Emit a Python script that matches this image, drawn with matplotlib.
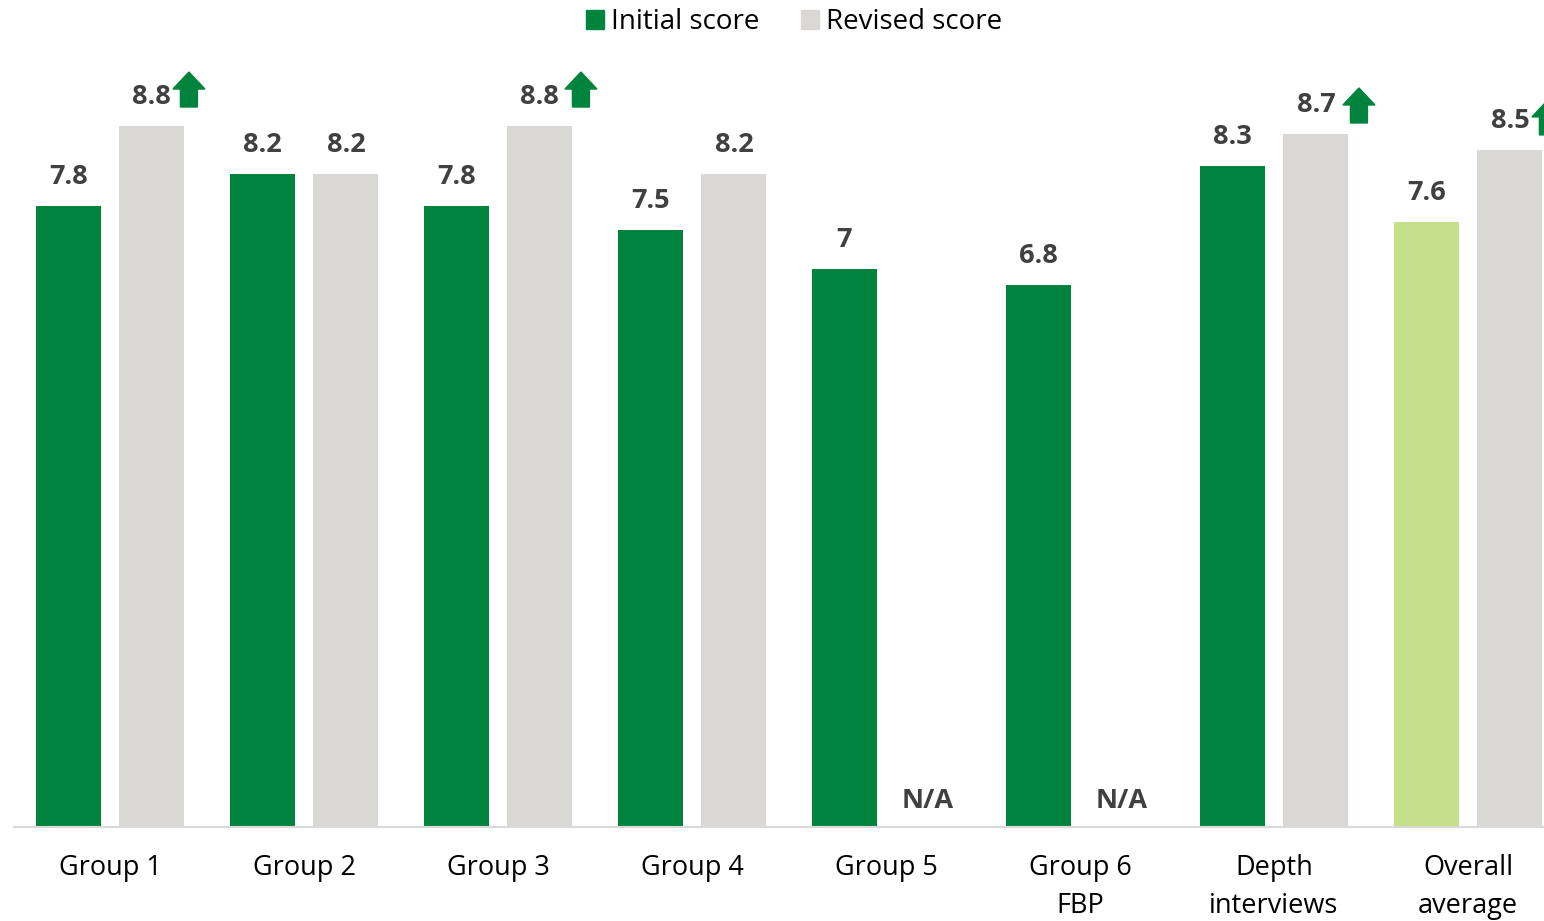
import numpy as np
import matplotlib
matplotlib.use('Agg')
import matplotlib.pyplot as plt
from matplotlib.patches import Patch, Polygon
from matplotlib.transforms import Affine2D, ScaledTranslation

# Data
groups = ['Group 1', 'Group 2', 'Group 3', 'Group 4', 'Group 5',
          'Group 6\nFBP', 'Depth\ninterviews', 'Overall\naverage']
initial = [7.8, 8.2, 7.8, 7.5, 7.0, 6.8, 8.3, 7.6]
revised = [8.8, 8.2, 8.8, 8.2, np.nan, np.nan, 8.7, 8.5]
# groups where the revised score went up (arrow marker), with pixel offsets
up_idx = [0, 2, 6, 7]
up_offsets = [(37, 19), (41, 19), (43, 11), (38, 15)]

GREEN = '#00843D'
LIGHT_GREEN = '#C5E08A'
GREY = '#D9D8D5'
LABEL = '#404040'

plt.rcParams['font.family'] = ['Open Sans', 'DejaVu Sans']

fig = plt.figure(figsize=(15.44, 9.21), dpi=100)
ax = fig.add_axes([14 / 1544, 94.5 / 921, 1530 / 1544, 826.5 / 921])

x = np.arange(len(groups))
w = 0.335
off = 0.216
init_colors = [GREEN] * (len(groups) - 1) + [LIGHT_GREEN]
ax.bar(x - off, initial, w, color=init_colors)
ax.bar(x + off, np.nan_to_num(revised), w, color=GREY)

def fmt(v):
    return f'{v:g}'

lab_kw = dict(textcoords='offset pixels', ha='center', va='baseline',
              fontsize=19.5, fontweight='bold', color=LABEL)
for xi, v in zip(x, initial):
    ax.annotate(fmt(v), (xi - off, v), xytext=(0, 22), **lab_kw)
for xi, v in zip(x, revised):
    if np.isnan(v):
        ax.annotate('N/A', (xi + off, 0), xytext=(0, 19), **lab_kw)
    else:
        ax.annotate(fmt(v), (xi + off, v), xytext=(0, 22), **lab_kw)

# up arrows beside the improved revised scores (shape in pixels)
arrow = np.array([[-8.5, 0], [8.5, 0], [8.5, 18], [16, 18], [0, 35],
                  [-16, 18], [-8.5, 18]])
for i, (dx, dy) in zip(up_idx, up_offsets):
    tr = Affine2D().translate(dx, dy) + ScaledTranslation(x[i] + off, revised[i], ax.transData)
    ax.add_patch(Polygon(arrow, closed=True, color=GREEN, transform=tr, clip_on=False))

ax.set_xlim(-0.495, -0.495 + 1530 / 194)
ax.set_ylim(0, 826.5 / 79.6)
ax.set_xticks(x)
ax.set_xticklabels(groups, fontsize=19.5, color='black', linespacing=1.45)
ax.tick_params(axis='x', length=0, pad=20)
ax.set_yticks([])
for s in ['top', 'left', 'right']:
    ax.spines[s].set_visible(False)
ax.spines['bottom'].set_color('#D9D9D9')
ax.spines['bottom'].set_linewidth(1.5)

handles = [Patch(color=GREEN, label='Initial score'), Patch(color=GREY, label='Revised score')]
fig.legend(handles=handles, loc='center', bbox_to_anchor=(794 / 1544, 1 - 22 / 921), ncol=2,
           frameon=False, fontsize=20, handlelength=0.65, handleheight=0.65,
           handletextpad=0.25, columnspacing=1.5)

fig.savefig('out.png', dpi=100)
